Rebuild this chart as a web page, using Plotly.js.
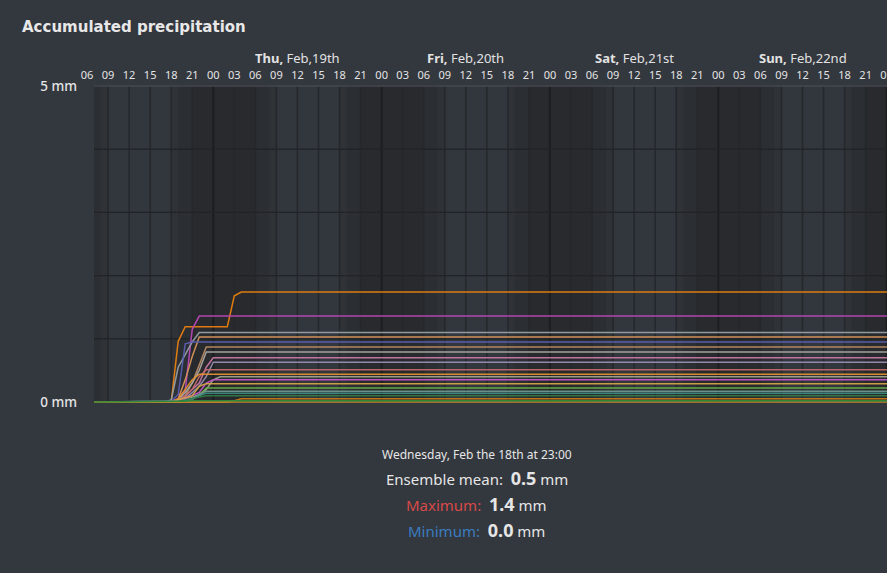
<!DOCTYPE html>
<html>
<head>
<meta charset="utf-8">
<script src="https://cdn.plot.ly/plotly-3.0.1.min.js"></script>
<style>
html,body{margin:0;padding:0;background:#33373e;overflow:hidden;width:887px;height:573px;}
#chart{width:900px;height:573px;}
</style>
</head>
<body>
<div id="chart"></div>
<script>
// ---- data ----
const times = ['2026-02-18 07:00','2026-02-18 17:00','2026-02-18 18:00','2026-02-18 19:00','2026-02-18 20:00',
  '2026-02-18 21:00','2026-02-18 22:00','2026-02-18 23:00','2026-02-19 00:00','2026-02-19 01:00',
  '2026-02-19 02:00','2026-02-19 03:00','2026-02-19 04:00','2026-02-19 05:00','2026-02-23 02:00'];

const m01 = [0,0,0,0.96,1.19,1.19,1.19,1.19,1.19,1.19,1.19,1.68,1.74,1.74,1.74];
const m02 = [0,0,0.01,0.05,0.18,1.15,1.36,1.36,1.36,1.36,1.36,1.36,1.36,1.36,1.36];
const m03 = [0,0,0.03,0.55,0.75,0.95,1.10,1.10,1.10,1.10,1.10,1.10,1.10,1.10,1.10];
const m04 = [0,0,0,0.05,0.35,0.72,1.03,1.03,1.03,1.03,1.03,1.03,1.03,1.03,1.03];
const m05 = [0,0,0.01,0.12,0.92,0.95,0.95,0.95,0.95,0.95,0.95,0.95,0.95,0.95,0.95];
const m06 = [0,0,0,0.02,0.10,0.30,0.60,0.87,0.87,0.87,0.87,0.87,0.87,0.87,0.87];
const m07 = [0,0,0,0.03,0.15,0.30,0.50,0.79,0.79,0.79,0.79,0.79,0.79,0.79,0.79];
const m08 = [0,0,0,0.02,0.08,0.20,0.30,0.55,0.70,0.70,0.70,0.70,0.70,0.70,0.70];
const m09 = [0,0,0,0.01,0.05,0.15,0.25,0.40,0.63,0.63,0.63,0.63,0.63,0.63,0.63];
const m10 = [0,0,0,0.02,0.10,0.20,0.40,0.51,0.51,0.51,0.51,0.51,0.51,0.51,0.51];
const m11 = [0,0,0,0.05,0.20,0.35,0.44,0.44,0.44,0.44,0.44,0.44,0.44,0.44,0.44];
const m12 = [0,0,0,0,0.03,0.08,0.12,0.20,0.35,0.40,0.40,0.40,0.40,0.40,0.40];
const m13 = [0,0,0,0.02,0.05,0.10,0.15,0.30,0.35,0.35,0.35,0.35,0.35,0.35,0.35];
const m14 = [0,0,0,0.03,0.06,0.10,0.25,0.29,0.29,0.29,0.29,0.29,0.29,0.29,0.29];
const m15 = [0,0,0,0,0.02,0.05,0.10,0.22,0.22,0.22,0.22,0.22,0.22,0.22,0.22];
const m16 = [0,0,0,0,0.02,0.05,0.12,0.17,0.17,0.17,0.17,0.17,0.17,0.17,0.17];
const m17 = [0,0,0,0,0.01,0.04,0.10,0.14,0.14,0.14,0.14,0.14,0.14,0.14,0.14];
const m18 = [0,0,0,0.01,0.03,0.06,0.08,0.10,0.10,0.10,0.10,0.10,0.10,0.10,0.10];
const m19 = [0,0,0,0,0,0,0,0,0,0,0,0.02,0.05,0.05,0.05];
const m20 = [0,0,0,0,0,0,0,0,0,0,0,0,0,0,0];
const m21 = [0,0,0,0.01,0.01,0.02,0.02,0.02,0.02,0.02,0.02,0.02,0.02,0.02,0.02];

const members = [m01,m02,m03,m04,m05,m06,m07,m08,m09,m10,m11,m12,m13,m14,m15,m16,m17,m18,m19,m20,m21];
const memberColors = ['#e8800f','#b848b8','#96a0a5','#d8965a','#5a5fb0','#b98c64','#aaa6a0','#c878a8','#9a8eb2',
  '#c06a6a','#e09030','#a0a48e','#c458c4','#d2a248','#68b048','#6e968c','#3c8a80','#2e7a45','#c87814','#d08a30','#2a8a3a'];

const tickHours = ['06','09','12','15','18','21','00','03','06','09','12','15','18','21','00','03','06','09','12','15','18','21',
  '00','03','06','09','12','15','18','21','00','03','06','09','12','15','18','21','00'];
const dayDays = ['Thu','Fri','Sat','Sun'];
const dayDates = ['Feb,19th','Feb,20th','Feb,21st','Feb,22nd'];
const dayNoon = ['2026-02-19 12:00','2026-02-20 12:00','2026-02-21 12:00','2026-02-22 12:00'];

const infoTime = 'Wednesday, Feb the 18th at 23:00';
const infoMean = '0.5', infoMax = '1.4', infoMin = '0.0';

// ---- helpers ----
const HOUR = 3600000;
const t0 = Date.UTC(2026,1,18,0,0);
function iso(h){ const d = new Date(t0 + h*HOUR); return d.toISOString().slice(0,16).replace('T',' '); }

const tickvals = tickHours.map((_, i) => iso(6 + 3*i));

const traces = members.map((ys, i) => ({
  type:'scatter', mode:'lines', x: times, y: ys,
  line:{color: memberColors[i], width:1.5, shape:'linear'},
  opacity:0.95, hoverinfo:'skip', showlegend:false
}));

const shapes = [];
const startH = 7, endH = 122;
const cDay = '#32363d', cMid = '#2f3237', cDusk = '#2b2e32', cNight = '#282a2d';
function band(h0,h1,c){
  const a = Math.max(h0,startH), b = Math.min(h1,endH);
  if (b <= a) return;
  shapes.push({type:'rect', xref:'x', yref:'y', x0:iso(a), x1:iso(b), y0:-0.1, y1:5.1, fillcolor:c, line:{width:0}, layer:'below'});
}
for (let d = 0; d < 6; d++){
  const b = 24*d;
  band(b-3, b+6, cNight);
  band(b+6, b+8, cDusk);
  band(b+8, b+9, cMid);
  band(b+9, b+18, cDay);
  band(b+18, b+19, cMid);
  band(b+19, b+21, cDusk);
}
for (let h = 9; h <= endH; h += 3){
  const mid = (h % 24) === 0;
  shapes.push({type:'line', xref:'x', yref:'y', x0:iso(h), x1:iso(h), y0:0, y1:5,
    line:{color: mid ? '#1c1e20' : '#25282b', width: mid ? 2 : 1.5}, layer:'below'});
}
for (let v = 1; v <= 4; v++){
  shapes.push({type:'line', xref:'x', yref:'y', x0:iso(startH), x1:iso(endH), y0:v, y1:v,
    line:{color:'#212326', width:1.3}, layer:'below'});
}
shapes.push({type:'line', xref:'x', yref:'y', x0:iso(startH), x1:iso(endH), y0:5, y1:5,
  line:{color:'#45494f', width:1.5}, layer:'below'});

const FONT = 'Noto Sans, Open Sans, sans-serif';
const annotations = [
  {xref:'paper', yref:'paper', x:-0.0732, y:1, xanchor:'left', yanchor:'middle', yshift:58, showarrow:false,
   text:'<b>Accumulated precipitation</b>', font:{family:'DejaVu Sans, sans-serif', size:15, color:'#e8e8e8'}},
];
dayDays.forEach((d,i) => annotations.push({xref:'x', yref:'paper', x:dayNoon[i], y:1, yanchor:'middle', yshift:27,
  showarrow:false, text:'<b>'+d+',</b> '+dayDates[i], font:{family:FONT, size:13, color:'#e2e2e2'}}));
const cx = 0.4841;
annotations.push(
  {xref:'paper', yref:'paper', x:cx, y:0, yanchor:'middle', yshift:-51, showarrow:false,
   text:infoTime, font:{family:FONT, size:12, color:'#e6e6e6'}},
  {xref:'paper', yref:'paper', x:cx, y:0, yanchor:'middle', yshift:-75, showarrow:false,
   text:'Ensemble mean:  <b><span style="font-size:18px">'+infoMean+'</span></b> mm', font:{family:FONT, size:15, color:'#e6e6e6'}},
  {xref:'paper', yref:'paper', x:cx, y:0, yanchor:'middle', yshift:-101, showarrow:false,
   text:'<span style="color:#d84a48">Maximum:</span>  <b><span style="font-size:18px">'+infoMax+'</span></b> mm', font:{family:FONT, size:15, color:'#e6e6e6'}},
  {xref:'paper', yref:'paper', x:cx, y:0, yanchor:'middle', yshift:-127, showarrow:false,
   text:'<span style="color:#3a7dc0">Minimum:</span>  <b><span style="font-size:18px">'+infoMin+'</span></b> mm', font:{family:FONT, size:15, color:'#e6e6e6'}}
);

const layout = {
  width:900, height:573,
  margin:{l:80, r:0, t:85, b:170},
  paper_bgcolor:'#33373e', plot_bgcolor:'#33373e',
  showlegend:false,
  xaxis:{type:'date', side:'top', range:[iso(5.0), iso(121.9)], showgrid:false, zeroline:false, showline:false,
    tickmode:'array', tickvals:tickvals, ticktext:tickHours, ticks:'', ticklabelstandoff:3,
    tickfont:{family:FONT, size:11, color:'#e4e4e4'}, fixedrange:true},
  yaxis:{range:[-0.016,5.016], showgrid:false, zeroline:false, showline:false, tickmode:'array', tickvals:[0,5],
    ticktext:['0 mm','5 mm'], ticks:'', ticklabelstandoff:2, tickfont:{family:FONT, size:13.5, color:'#e4e4e4', weight:500}, fixedrange:true},
  shapes:shapes, annotations:annotations
};

Plotly.newPlot('chart', traces, layout, {displayModeBar:false, staticPlot:true});
</script>
</body>
</html>
